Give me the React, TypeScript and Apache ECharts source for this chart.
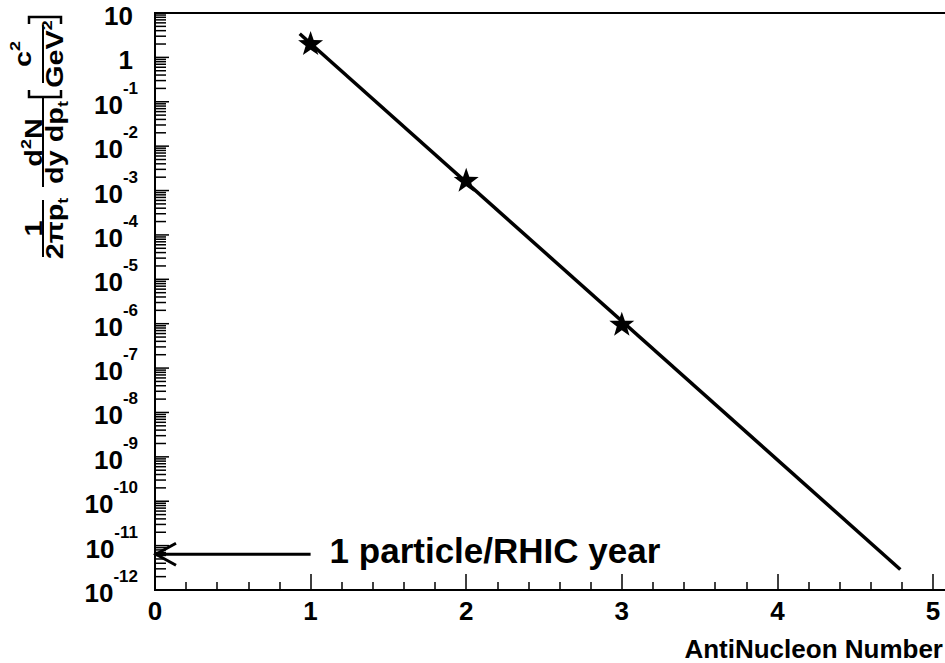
import React, { useEffect, useRef } from 'react';
import * as echarts from 'echarts';

const FONT = '"Liberation Sans", Arial, Helvetica, sans-serif';

// measured points (AntiNucleon number vs invariant yield)
const nucleonNumber = [1, 2, 3];
const yieldValues = [2.1, 1.75e-3, 1.0e-6];
// exponential fit line end points
const fitLineX = [0.93, 4.79];
const fitLineY = [3.4, 2.9e-12];
// "1 particle / RHIC year" arrow
const rhicArrowX = [0, 1];
const rhicArrowY = 6.4e-12;
const rhicLabel = '1 particle/RHIC year';

const xTickLabels = ['0', '1', '2', '3', '4', '5'];
const xAxisTitle = 'AntiNucleon Number';
const yMin = 1e-12;
const yMax = 10;
const yDecadeExponents = [1, 0, -1, -2, -3, -4, -5, -6, -7, -8, -9, -10, -11, -12];
const yMinorMultipliers = [2, 3, 4, 5, 6, 7, 8, 9];

const yMajorTicks = yDecadeExponents.map((e) => Math.pow(10, e));
const yMinorTicks: number[] = [];
yDecadeExponents.forEach((e) => {
  yMinorMultipliers.forEach((m) => {
    const v = m * Math.pow(10, e);
    if (v < yMax) yMinorTicks.push(v);
  });
});

const STAR =
  'path://M50 0 L61.76 33.82 L97.55 34.55 L69.02 56.18 L79.39 90.45 L50 70 L20.61 90.45 L30.98 56.18 L2.45 34.55 L38.24 33.82 Z';

const tf = (size: number) => `bold ${size}px ${FONT}`;

const TITLE_SIZE = 24;
const TITLE_SUB = 15;
const TITLE_SCALE = 1.2;

function tok(size: number, lineHeight: number, verticalAlign: string) {
  return {
    font: tf(size),
    fontFamily: FONT,
    fontWeight: 'bold',
    fontSize: size,
    lineHeight,
    verticalAlign,
    fill: '#000',
    color: '#000',
  };
}

function titleText(x: number, y: number, text: string, rich?: any) {
  return {
    type: 'text',
    x,
    y,
    scaleX: TITLE_SCALE,
    style: {
      text,
      font: tf(TITLE_SIZE),
      fill: '#000',
      align: 'center',
      textAlign: 'center',
      verticalAlign: 'middle',
      textVerticalAlign: 'middle',
      rich,
    },
  };
}

const supRich = {
  m: tok(TITLE_SIZE, 31, 'middle'),
  s: tok(TITLE_SUB, 15, 'top'),
};
const subRich = {
  m: tok(TITLE_SIZE, 31, 'middle'),
  s: tok(TITLE_SUB, 15, 'bottom'),
};

const LABEL_SIZE = 26;
const labelRich = {
  b: tok(LABEL_SIZE, 50, 'middle'),
  s: tok(17, 17, 'top'),
};

function yLabel(v: number) {
  const e = Math.round(Math.log10(v));
  if (e === 1) return '{b|10}';
  if (e === 0) return '{b|1}';
  return `{b|10}{s|${e}}`;
}

export default function App() {
  const ref = useRef<HTMLDivElement>(null);
  useEffect(() => {
    if (!ref.current) return;
    const chart = echarts.init(ref.current, undefined, { renderer: 'svg' });
    const lineStyle = { stroke: '#000', lineWidth: 2 };
    const option: any = {
      animation: false,
      backgroundColor: '#fff',
      grid: {
        left: 155,
        top: 13,
        width: 6 * 155.6,
        height: 577,
        containLabel: false,
        outerBoundsMode: 'none',
        show: true,
        borderColor: '#000',
        borderWidth: 2,
        backgroundColor: 'transparent',
      },
      xAxis: {
        type: 'value',
        min: 0,
        max: 6,
        interval: 1,
        axisLine: { show: true, lineStyle: { color: '#000', width: 2 } },
        axisTick: { show: true, inside: true, length: 16, lineStyle: { color: '#000', width: 1.5 } },
        minorTick: { show: true, splitNumber: 5, length: 8, lineStyle: { color: '#000', width: 1.5 } },
        splitLine: { show: false },
        minorSplitLine: { show: false },
        axisLabel: {
          margin: 8,
          color: '#000',
          fontFamily: FONT,
          fontWeight: 'bold',
          fontSize: 26,
          formatter: (v: number) => xTickLabels[v] ?? '',
        },
      },
      yAxis: {
        type: 'log',
        logBase: 10,
        min: yMin,
        max: yMax,
        axisLine: { show: true, lineStyle: { color: '#000', width: 2 } },
        axisTick: { show: false },
        axisLabel: { show: false },
        splitLine: { show: false },
      },
      series: [
        {
          type: 'custom',
          name: 'yMajorTicks',
          coordinateSystem: 'cartesian2d',
          silent: true,
          clip: false,
          data: yMajorTicks.map((v) => [0, v]),
          renderItem: (params: any, api: any) => {
            const v = api.value(1);
            const p = api.coord([api.value(0), v]);
            const e = Math.round(Math.log10(v));
            const plain = e >= 0;
            return {
              type: 'group',
              children: [
                {
                  type: 'line',
                  shape: { x1: p[0], y1: p[1], x2: p[0] + 14, y2: p[1] },
                  style: { stroke: '#000', lineWidth: 1.5 },
                },
                {
                  type: 'text',
                  x: p[0] - (plain ? 22 : 17),
                  y: p[1] + 3,
                  style: {
                    text: yLabel(v),
                    rich: labelRich,
                    font: tf(LABEL_SIZE),
                    fill: '#000',
                    align: 'right',
                    textAlign: 'right',
                    verticalAlign: 'middle',
                    textVerticalAlign: 'middle',
                  },
                },
              ],
            };
          },
        },
        {
          type: 'custom',
          name: 'yMinorTicks',
          coordinateSystem: 'cartesian2d',
          silent: true,
          clip: false,
          data: yMinorTicks.map((v) => [0, v]),
          renderItem: (params: any, api: any) => {
            const p = api.coord([api.value(0), api.value(1)]);
            return {
              type: 'line',
              shape: { x1: p[0], y1: p[1], x2: p[0] + 11, y2: p[1] },
              style: { stroke: '#000', lineWidth: 1.5 },
            };
          },
        },
        {
          type: 'line',
          name: 'fit',
          data: fitLineX.map((x, i) => [x, fitLineY[i]]),
          symbol: 'none',
          lineStyle: { color: '#000', width: 3.5 },
          z: 3,
        },
        {
          type: 'scatter',
          name: 'data',
          data: nucleonNumber.map((x, i) => [x, yieldValues[i]]),
          symbol: STAR,
          symbolSize: [25, 24],
          itemStyle: { color: '#000', opacity: 1 },
          z: 4,
        },
        {
          type: 'custom',
          name: 'rhic',
          coordinateSystem: 'cartesian2d',
          silent: true,
          clip: false,
          encode: { x: [0, 1], y: 2 },
          data: [[rhicArrowX[0], rhicArrowX[1], rhicArrowY]],
          renderItem: (params: any, api: any) => {
            const a = api.coord([api.value(0), api.value(2)]);
            const b = api.coord([api.value(1), api.value(2)]);
            return {
              type: 'group',
              children: [
                { type: 'line', shape: { x1: a[0], y1: a[1], x2: b[0], y2: b[1] }, style: { stroke: '#000', lineWidth: 3 } },
                {
                  type: 'polyline',
                  shape: { points: [[a[0] + 21, a[1] - 11], [a[0] + 1, a[1]], [a[0] + 21, a[1] + 11]] },
                  style: { stroke: '#000', lineWidth: 3, fill: 'none' },
                },
                {
                  type: 'text',
                  x: b[0] + 19,
                  y: b[1] - 4,
                  style: {
                    text: rhicLabel,
                    font: tf(35),
                    fill: '#000',
                    align: 'left',
                    textAlign: 'left',
                    verticalAlign: 'middle',
                    textVerticalAlign: 'middle',
                  },
                },
              ],
            };
          },
        },
      ],
      graphic: [
        {
          type: 'group',
          x: 43,
          y: 257,
          rotation: Math.PI / 2,
          silent: true,
          children: [
            { type: 'line', shape: { x1: 0, y1: 0, x2: 57, y2: 0 }, style: lineStyle },
            titleText(28.5, -9, '1'),
            titleText(28.5, 12, '{m|2πp}{s|t}', subRich),
            { type: 'line', shape: { x1: 70, y1: 0, x2: 159, y2: 0 }, style: lineStyle },
            titleText(114.5, -9, '{m|d}{s|2}{m|N}', supRich),
            titleText(114.5, 12, '{m|dy dp}{s|t}', subRich),
            {
              type: 'polyline',
              shape: { points: [[167, -14], [160, -14], [160, 18], [167, 18]] },
              style: { stroke: '#000', lineWidth: 2.5, fill: 'none' },
            },
            { type: 'line', shape: { x1: 174, y1: 0, x2: 232, y2: 0 }, style: lineStyle },
            titleText(203, -20, '{m|c}{s|2}', supRich),
            titleText(203, 12, '{m|GeV}{s|2}', supRich),
            {
              type: 'polyline',
              shape: { points: [[233, -14], [240, -14], [240, 18], [233, 18]] },
              style: { stroke: '#000', lineWidth: 2.5, fill: 'none' },
            },
          ],
        },
        {
          type: 'text',
          x: 943,
          y: 649,
          silent: true,
          style: {
            text: xAxisTitle,
            font: tf(26),
            fill: '#000',
            align: 'right',
            textAlign: 'right',
            verticalAlign: 'middle',
            textVerticalAlign: 'middle',
          },
        },
      ],
    };
    chart.setOption(option);
    return () => chart.dispose();
  }, []);
  return (
    <div
      ref={ref}
      style={{ position: 'absolute', left: 0, top: 0, width: 945, height: 663, background: '#fff' }}
    />
  );
}
